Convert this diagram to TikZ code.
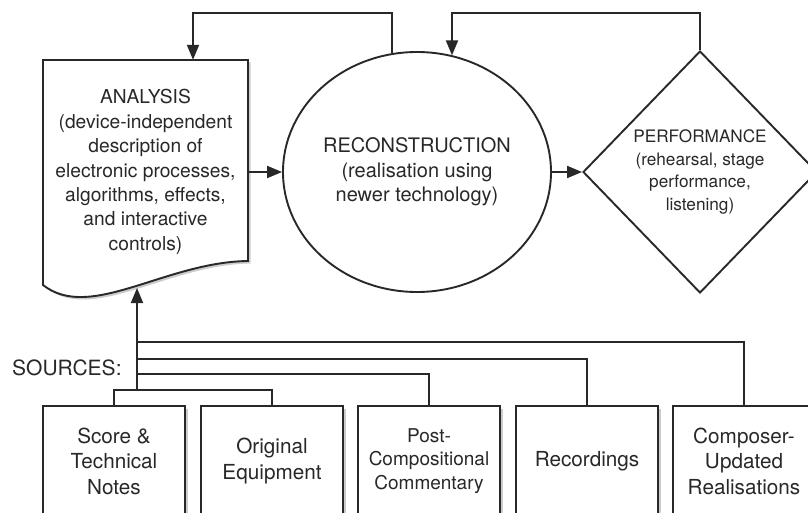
\documentclass[tikz,border=0pt]{standalone}
\usepackage{fontspec}
\setmainfont{TeX Gyre Heros}
\usepackage{tikz}
\usetikzlibrary{calc}
\usetikzlibrary{arrows.meta}
\usetikzlibrary{positioning}
\usetikzlibrary{shapes.geometric}
\usetikzlibrary{shadows}
\definecolor{ink}{RGB}{40, 40, 40}
\definecolor{paper}{RGB}{255, 255, 255}

\begin{document}
\begin{tikzpicture}[x=1pt, y=-1pt,
            line/.style   = {draw=ink, line width=1.9pt},
            arr/.style    = {line, -{Triangle[length=15pt, width=12pt]}},
            shade/.style  = {drop shadow={shadow xshift=2.5pt, shadow yshift=-2.5pt, opacity=.4}},
            txt/.style    = {text=ink, align=center, inner sep=0pt},
            srcbox/.style = {line, txt, fill=paper, shade, minimum width=142pt, minimum height=110pt,
                             font=\fontsize{20.7}{25.5}\selectfont}]
            \useasboundingbox                                               (  0.0,  0.0) rectangle (808.0,513.0);
            \filldraw[line, fill=paper, shade]                              ( 43.0, 60.0) -- (248.0, 60.0) -- (248.0,261.0)
                 .. controls (165.0,262.0) and (90.0,322.0) .. (43.0,285.0) -- cycle;
            \node[txt, minimum width=205pt, minimum height=224pt,
                  font=\fontsize{19.2}{24.4}\selectfont]          (analysis) at (145.5,172.0)
                 {ANALYSIS\\(device-independent\\description of\\electronic processes,\\algorithms, effects,\\and interactive\\controls)};
            \node[line, txt, ellipse, minimum width=268pt, minimum height=240pt,
                  font=\fontsize{20}{24.5}\selectfont]            (recon)    at (417.0,172.0)
                 {RECONSTRUCTION\\(realisation using\\newer technology)};
            \node[line, txt, diamond, minimum width=234pt, minimum height=242pt,
                  font=\fontsize{17.2}{22.5}\selectfont]          (perf)     at (700.0,172.0)
                 {PERFORMANCE\\(rehearsal, stage\\performance,\\listening)};
            \node[txt, anchor=base west, font=\fontsize{21}{25}\selectfont] (sources) at ( 12.0,375.0) {SOURCES:};
            \node[srcbox]                                                   (score)    at (114.0,461.0) {Score \&\\Technical\\Notes};
            \node[srcbox]                                                   (equip)    at (272.0,461.0) {Original\\Equipment};
            \node[srcbox, font=\fontsize{19}{23.5}\selectfont]              (post)     at (429.0,461.0) {Post-\\Compositional\\Commentary};
            \node[srcbox]                                                   (rec)      at (587.0,461.0) {Recordings};
            \node[srcbox]                                                   (comp)     at (744.0,461.0) {Composer-\\Updated\\Realisations};
            \coordinate (wave)  at (137.0,288.0);
            \coordinate (src)   at (137.0,390.0);
            \coordinate (busA)  at (137.0,342.0);
            \coordinate (busB)  at (137.0,359.0);
            \coordinate (busC)  at (137.0,374.0);
            \coordinate (loopA) at (193.0, 13.0);
            \coordinate (loopB) at (452.0, 13.0);
            \draw[line] (score.north) |- (src) -| (equip.north);
            \draw[arr]  (src) -- (wave);
            \draw[line] (busA) -| (comp.north);
            \draw[line] (busB) -| (rec.north);
            \draw[line] (busC) -| (post.north);
            \draw[arr]  (analysis.east) -- (recon.west);
            \draw[arr]  (recon.east) -- (perf.west);
            \draw[arr]  (recon.102) |- (loopA) -- (loopA |- analysis.north);
            \draw[arr]  (perf.north) |- (loopB) -- (loopB |- recon.73);
        \end{tikzpicture}
\end{document}
